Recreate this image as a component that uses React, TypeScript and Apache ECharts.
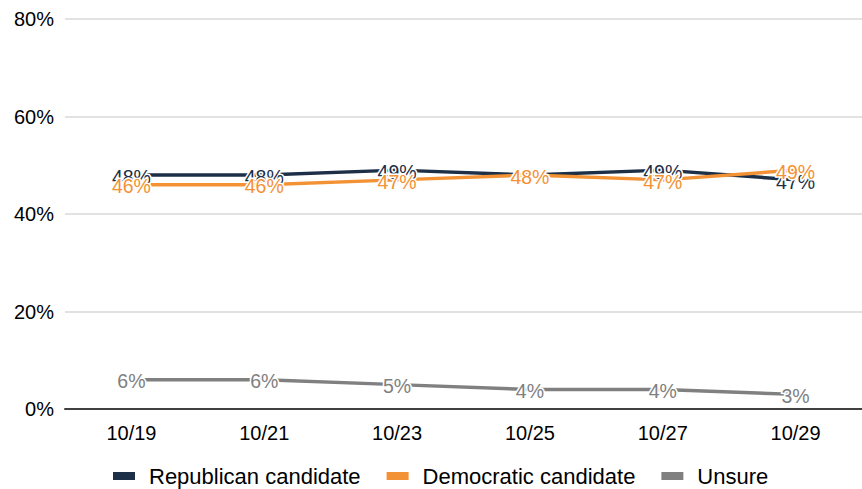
import React, { useEffect, useRef } from "react";
import * as echarts from "echarts";

const categories = ["10/19", "10/21", "10/23", "10/25", "10/27", "10/29"];
const republican = [48, 48, 49, 48, 49, 47];
const democratic = [46, 46, 47, 48, 47, 49];
const unsure = [6, 6, 5, 4, 4, 3];
const yTicks = [0, 20, 40, 60, 80];

const FONT = "Liberation Sans, Arial, sans-serif";
const FS = 20;
const LFS = 19.5;
const LEG_FS = 22;

export default function App() {
  const ref = useRef<HTMLDivElement>(null);
  useEffect(() => {
    if (!ref.current) return;
    const chart = echarts.init(ref.current, undefined, { renderer: "svg" });
    const mk = (name: string, data: number[], color: string) => ({
      name,
      type: "line",
      data,
      symbol: "circle",
      symbolSize: 0.1,
      showSymbol: true,
      itemStyle: { color },
      lineStyle: { color, width: 3.5 },
      label: {
        show: true,
        position: "top",
        distance: 0,
        offset: [0, LFS / 2 + 2],
        formatter: (p: any) => p.value + "%",
        color,
        fontFamily: FONT,
        fontSize: LFS,
        textBorderColor: "#fff",
        textBorderWidth: 3,
      },
    });
    chart.setOption({
      animation: false,
      grid: { left: 65, right: 0, top: 19, bottom: 80, containLabel: false },
      xAxis: {
        type: "category",
        data: categories,
        boundaryGap: true,
        axisLine: { lineStyle: { color: "#404040", width: 2 } },
        axisTick: { show: false },
        axisLabel: { color: "#000", fontFamily: FONT, fontSize: FS, margin: 14 },
      },
      yAxis: {
        type: "value",
        min: yTicks[0],
        max: yTicks[yTicks.length - 1],
        interval: 20,
        axisLine: { show: false },
        axisTick: { show: false },
        splitLine: { lineStyle: { color: "#d9d9d9", width: 1.5 } },
        axisLabel: { color: "#000", fontFamily: FONT, fontSize: FS, margin: 11, formatter: "{value}%" },
      },
      legend: {
        top: 460,
        left: 108,
        itemWidth: 22,
        itemHeight: 8,
        itemGap: 26,
        icon: "rect",
        textStyle: { color: "#000", fontFamily: FONT, fontSize: LEG_FS, padding: [0, 0, 0, 9] },
        data: ["Republican candidate", "Democratic candidate", "Unsure"],
      },
      series: [
        mk("Republican candidate", republican, "#1c2f47"),
        mk("Democratic candidate", democratic, "#f39234"),
        mk("Unsure", unsure, "#808080"),
      ],
    });
    return () => chart.dispose();
  }, []);
  return (
    <div
      ref={ref}
      style={{ position: "absolute", left: 0, top: 0, width: 862, height: 489 }}
    />
  );
}
